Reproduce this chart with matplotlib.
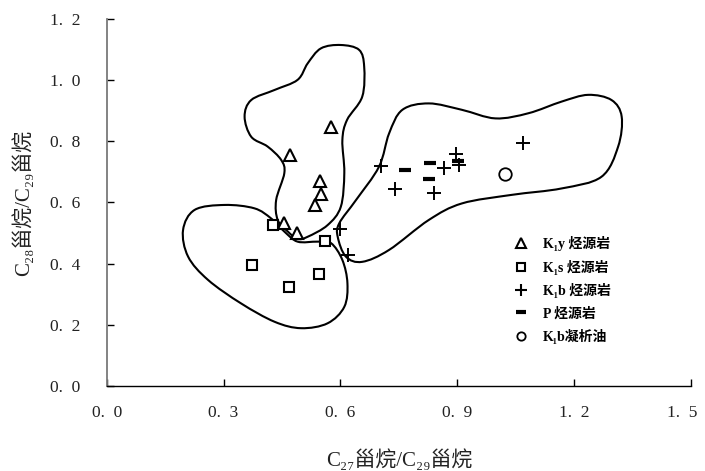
import numpy as np
import matplotlib
matplotlib.use("Agg")
import matplotlib.pyplot as plt
import matplotlib.transforms as mtransforms
from matplotlib.path import Path
from matplotlib.patches import PathPatch
from matplotlib.lines import Line2D

# ---------------- data ----------------
k1y_x = [0.577, 0.470, 0.548, 0.549, 0.535, 0.456, 0.489]
k1y_y = [0.848, 0.755, 0.671, 0.628, 0.592, 0.534, 0.499]

k1s_x = [0.426, 0.560, 0.373, 0.546, 0.467]
k1s_y = [0.526, 0.474, 0.396, 0.366, 0.325]

k1b_x = [0.705, 0.739, 0.841, 0.867, 0.896, 0.904, 1.068, 0.599, 0.620]
k1b_y = [0.719, 0.643, 0.630, 0.712, 0.759, 0.723, 0.794, 0.512, 0.428]

p_x = [0.767, 0.831, 0.827, 0.901]
p_y = [0.706, 0.730, 0.676, 0.737]

oil_x = [1.023]
oil_y = [0.693]

# envelope outlines (control points, data units)
envA_x = [0.601, 0.648, 0.661, 0.656, 0.617, 0.605, 0.610, 0.601, 0.567, 0.516, 0.490,
          0.465, 0.439, 0.435, 0.456, 0.448, 0.413, 0.371, 0.354, 0.371, 0.431, 0.490,
          0.516, 0.550]
envA_y = [1.115, 1.099, 1.044, 0.946, 0.870, 0.804, 0.697, 0.586, 0.526, 0.488, 0.481,
          0.505, 0.543, 0.608, 0.696, 0.739, 0.783, 0.815, 0.881, 0.935, 0.968, 1.001,
          1.055, 1.104]

envB_x = [0.196, 0.226, 0.303, 0.379, 0.422, 0.456, 0.490, 0.541, 0.576, 0.605, 0.618,
          0.610, 0.567, 0.499, 0.431, 0.345, 0.260, 0.209]
envB_y = [0.510, 0.576, 0.592, 0.581, 0.548, 0.505, 0.472, 0.472, 0.467, 0.412, 0.336,
          0.259, 0.205, 0.189, 0.210, 0.270, 0.347, 0.423]

envC_x = [0.593, 0.614, 0.656, 0.725, 0.827, 0.912, 1.040, 1.168, 1.270, 1.313, 1.322,
          1.296, 1.236, 1.168, 1.083, 0.998, 0.912, 0.827, 0.759, 0.725, 0.699, 0.640,
          0.597]
envC_y = [0.488, 0.423, 0.406, 0.445, 0.543, 0.597, 0.625, 0.646, 0.684, 0.783, 0.881,
          0.935, 0.952, 0.930, 0.892, 0.875, 0.903, 0.924, 0.903, 0.826, 0.717, 0.608,
          0.532]

x_ticks = [0.0, 0.3, 0.6, 0.9, 1.2, 1.5]
x_tick_labels = ["0.\u20020", "0.\u20023", "0.\u20026", "0.\u20029", "1.\u20022", "1.\u20025"]
y_ticks = [0.0, 0.2, 0.4, 0.6, 0.8, 1.0, 1.2]
y_tick_labels = ["0.\u20020", "0.\u20022", "0.\u20024", "0.\u20026", "0.\u20028", "1.\u20020", "1.\u20022"]

legend_labels = ["K\u2081y 烃源岩", "K\u2081s 烃源岩", "K\u2081b 烃源岩", "P 烃源岩", "K\u2081b凝析油"]

xlabel = "C\u2082\u2087甾烷/C\u2082\u2089甾烷"
ylabel = "C\u2082\u2088甾烷/C\u2082\u2089甾烷"

# ---------------- helpers ----------------
def closed_smooth_path(xs, ys):
    pts = np.column_stack([xs, ys])
    n = len(pts)
    verts = [pts[0]]
    codes = [Path.MOVETO]
    for i in range(n):
        p_prev = pts[(i - 1) % n]
        p0 = pts[i]
        p1 = pts[(i + 1) % n]
        p2 = pts[(i + 2) % n]
        c1 = p0 + (p1 - p_prev) / 6.0
        c2 = p1 - (p2 - p0) / 6.0
        verts += [c1, c2, p1]
        codes += [Path.CURVE4] * 3
    return Path(np.array(verts), codes)

serif = ["Liberation Serif", "DejaVu Serif", "Noto Sans CJK SC"]
label_font = ["Liberation Serif", "DejaVu Serif", "Noto Sans CJK SC"]

# ---------------- figure ----------------
fig = plt.figure(figsize=(7.05, 4.71), dpi=100)
ax = fig.add_axes([106.7 / 705, 85 / 471, 584.3 / 705, 367 / 471])

for ex, ey in [(envA_x, envA_y), (envB_x, envB_y), (envC_x, envC_y)]:
    ax.add_patch(PathPatch(closed_smooth_path(ex, ey), fill=False, lw=1.5,
                           edgecolor="black", zorder=2))

ax.plot(k1y_x, k1y_y, ls="none", marker="^", ms=8, mfc="white", mec="black", mew=1.5, zorder=3)
ax.plot(k1s_x, k1s_y, ls="none", marker="s", ms=6.5, mfc="white", mec="black", mew=1.5, zorder=3)
ax.plot(k1b_x, k1b_y, ls="none", marker="+", ms=10, mec="black", mew=1.4, zorder=3)
ax.plot(p_x, p_y, ls="none", marker="_", ms=9, mec="black", mew=3, zorder=3)
ax.plot(oil_x, oil_y, ls="none", marker="o", ms=9, mfc="white", mec="black", mew=1.3, zorder=3)

ax.set_xlim(0, 1.5)
ax.set_ylim(0, 1.2)
ax.set_xticks(x_ticks)
ax.set_xticklabels(x_tick_labels, fontfamily=serif, fontsize=12.5, color="#222222")
ax.set_yticks(y_ticks)
ax.set_yticklabels(y_tick_labels, fontfamily=serif, fontsize=12.5, color="#222222")
ax.tick_params(axis="both", direction="in", length=5, width=1, color="black")
ax.tick_params(axis="x", pad=14)
ax.tick_params(axis="y", pad=19)

# keep the last x tick label inside the canvas
last = ax.get_xticklabels()[-1]
last.set_transform(last.get_transform() +
                   mtransforms.ScaledTranslation(-6 / 72, 0, fig.dpi_scale_trans))

for s in ["top", "right"]:
    ax.spines[s].set_visible(False)
ax.spines["left"].set_color("#7a7a7a")
ax.spines["left"].set_linewidth(1.3)
ax.spines["bottom"].set_color("black")
ax.spines["bottom"].set_linewidth(1.0)

ax.set_xlabel(xlabel, fontfamily=label_font, fontsize=15, labelpad=20, color="#222222")
ax.set_ylabel(ylabel, fontfamily=label_font, fontsize=15, labelpad=11, color="#222222")

handles = [
    Line2D([], [], ls="none", marker="^", ms=7, mfc="white", mec="black", mew=1.5),
    Line2D([], [], ls="none", marker="s", ms=6, mfc="white", mec="black", mew=1.5),
    Line2D([], [], ls="none", marker="+", ms=8, mec="black", mew=1.5),
    Line2D([], [], ls="none", marker="_", ms=7, mec="black", mew=3),
    Line2D([], [], ls="none", marker="o", ms=6, mfc="white", mec="black", mew=1.3),
]
leg = ax.legend(handles, legend_labels, loc="upper left",
                bbox_to_anchor=(514 / 705, (471 - 236) / 471),
                bbox_transform=fig.transFigure, frameon=False,
                handlelength=1.0, handletextpad=1.1, labelspacing=0.62,
                borderpad=0, borderaxespad=0,
                prop={"family": serif, "weight": "bold", "size": 10})

fig.savefig("out.png", dpi=100)
